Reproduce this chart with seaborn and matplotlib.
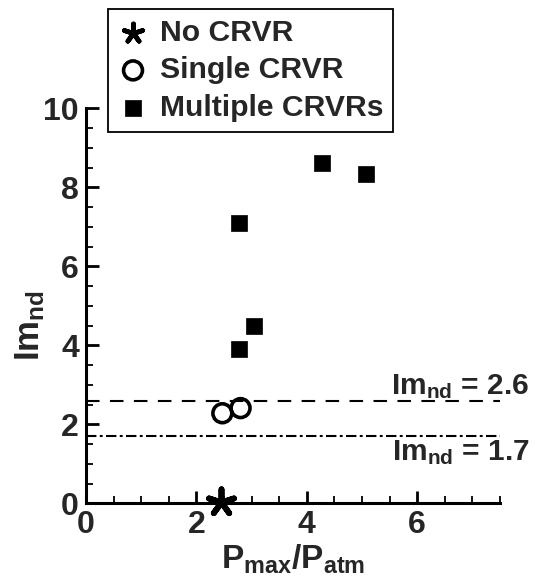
import matplotlib
matplotlib.use("Agg")
import matplotlib.pyplot as plt
from matplotlib.ticker import MultipleLocator
import seaborn as sns
import pandas as pd

# Pressure ratio vs. nondimensional impulse, grouped by observed CRVR count
none_x = [2.45]
none_y = [0.03]
single_x = [2.47, 2.80]
single_y = [2.28, 2.41]
multi_x = [4.28, 5.08, 2.78, 3.05, 2.78]
multi_y = [8.61, 8.33, 7.10, 4.49, 3.90]

thresholds = [2.6, 1.7]
threshold_labels = ["Im$_{\\rm nd}$ = 2.6", "Im$_{\\rm nd}$ = 1.7"]
threshold_styles = [(0, (6.5, 5)), (0, (5, 1.6, 1.4, 1.6))]

sns.set_theme(style="ticks")
plt.rcParams["font.family"] = ["Liberation Sans", "DejaVu Sans"]
plt.rcParams["font.weight"] = "bold"
plt.rcParams["mathtext.fontset"] = "custom"
plt.rcParams["mathtext.rm"] = "Liberation Sans:bold"
plt.rcParams["mathtext.it"] = "Liberation Sans:bold"
plt.rcParams["mathtext.bf"] = "Liberation Sans:bold"
plt.rcParams["mathtext.default"] = "rm"

fig = plt.figure(figsize=(5.35, 5.79), dpi=100)
ax = fig.add_axes([86 / 535, 1 - 503.3 / 579, 414 / 535, 395 / 579])

df_none = pd.DataFrame({"x": none_x, "y": none_y})
df_single = pd.DataFrame({"x": single_x, "y": single_y})
df_multi = pd.DataFrame({"x": multi_x, "y": multi_y})

sns.scatterplot(data=df_none, x="x", y="y", ax=ax, marker=(5, 2, 0), s=360,
                color="black", edgecolor="black", linewidth=4.2, label="No CRVR",
                clip_on=False, zorder=5)
sns.scatterplot(data=df_single, x="x", y="y", ax=ax, marker="o", s=185,
                facecolor="none", edgecolor="black", linewidth=2.6,
                label="Single CRVR", zorder=5)
sns.scatterplot(data=df_multi, x="x", y="y", ax=ax, marker="s", s=135,
                color="black", edgecolor="black", linewidth=0.5,
                label="Multiple CRVRs", zorder=5)

for yv, style in zip(thresholds, threshold_styles):
    ax.axhline(yv, color="black", linewidth=1.5, linestyle=style, zorder=2)

# Threshold annotations, right-aligned past the end of the axis
ax.text(8.03, 2.6 + 0.16, threshold_labels[0], ha="right", va="baseline",
        fontsize=21.5, fontweight="bold", clip_on=False)
ax.text(8.03, 1.7 - 0.6, threshold_labels[1], ha="right", va="baseline",
        fontsize=21.5, fontweight="bold", clip_on=False)

ax.set_xlim(0, 7.5)
ax.set_ylim(0, 10)
ax.xaxis.set_major_locator(MultipleLocator(2))
ax.xaxis.set_minor_locator(MultipleLocator(0.5))
ax.yaxis.set_major_locator(MultipleLocator(2))
ax.yaxis.set_minor_locator(MultipleLocator(0.5))
ax.tick_params(which="major", direction="in", length=9, width=2,
               labelsize=23, pad=5, color="black")
ax.tick_params(which="minor", direction="in", length=5, width=1.3, color="black")
for lab in ax.get_xticklabels() + ax.get_yticklabels():
    lab.set_fontweight("bold")

for side in ("top", "right"):
    ax.spines[side].set_visible(False)
for side in ("left", "bottom"):
    ax.spines[side].set_linewidth(2.2)
    ax.spines[side].set_color("black")

ax.set_xlabel("P$_{\\rm max}$/P$_{\\rm atm}$", fontsize=24, fontweight="bold", labelpad=2)
ax.set_ylabel("Im$_{\\rm nd}$", fontsize=25, fontweight="bold")
ax.yaxis.set_label_coords(-0.094, 0.45)

leg = ax.legend(loc="upper left", bbox_to_anchor=(108 / 535, 1 - 9 / 579),
                bbox_transform=fig.transFigure, borderaxespad=0, frameon=True,
                fancybox=False, handletextpad=0.38,
                borderpad=0.33, labelspacing=0.31, handlelength=1.0,
                prop={"weight": "bold", "size": 21.7})
leg.get_frame().set_edgecolor("black")
leg.get_frame().set_linewidth(1.3)
leg.get_frame().set_alpha(1)
# smaller asterisk in the key than on the plot
leg.legend_handles[0].set_sizes([190])
leg.legend_handles[0].set_linewidths([3.4])

fig.savefig("out.png", dpi=100)
